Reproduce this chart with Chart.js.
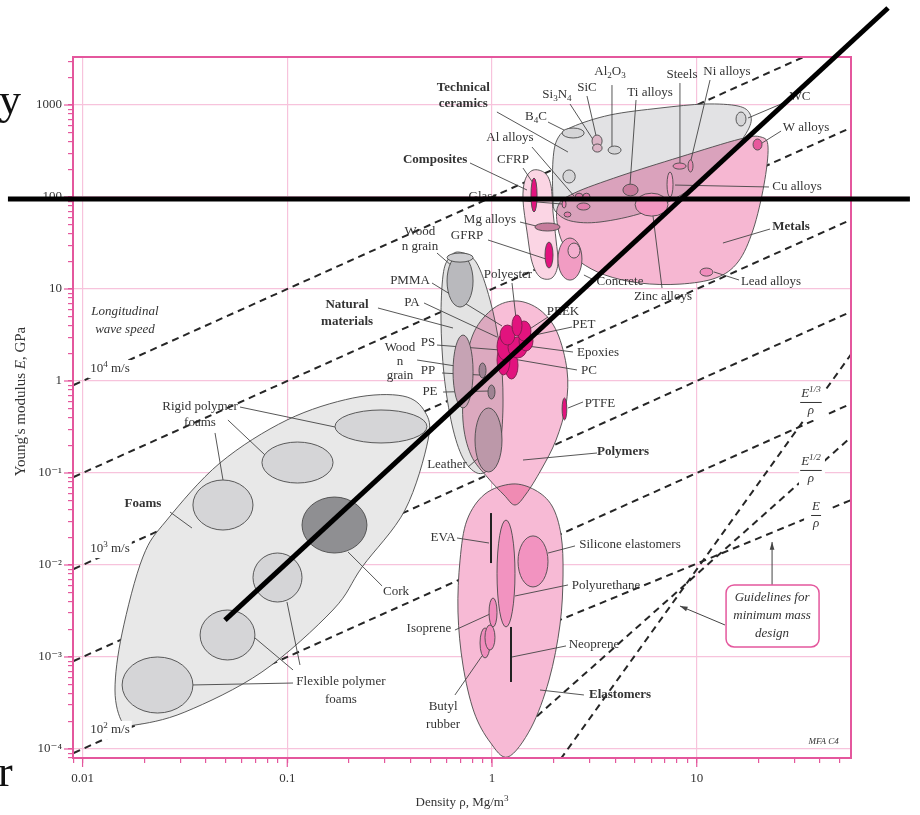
<!DOCTYPE html>
<html>
<head>
<meta charset="utf-8">
<title>Young's modulus against density</title>
<script src="https://cdn.jsdelivr.net/npm/chart.js@4.4.1/dist/chart.umd.min.js"></script>
<style>
  html, body { margin: 0; padding: 0; background: #fff; }
  #wrap { position: relative; width: 920px; height: 815px; overflow: hidden; }
  canvas { position: absolute; left: 0; top: 0; }
  .edge { position: absolute; font-family: "Liberation Serif", serif; color: #111; line-height: 1; }
</style>
</head>
<body>
<div id="wrap">
  <canvas id="chart" width="920" height="815"></canvas>
  <div class="edge" style="left:-1px; top:78px; font-size:44px;">y</div>
  <div class="edge" style="left:-2px; top:750px; font-size:44px;">r</div>
</div>
<script>
const SERIF = '"Liberation Serif", "DejaVu Serif", serif';
const INK = '#333';
const FRAME = '#e4579d';
const GRID = '#f7c3dc';
const OUTLINE = '#4a4a4a';

// axis decades
const densityTicks = [0.01, 0.1, 1, 10];
const densityTickLabels = ['0.01', '0.1', '1', '10'];
const modulusTicks = [1e-4, 1e-3, 1e-2, 1e-1, 1, 10, 100, 1000];
const modulusTickLabels = ['10⁻⁴', '10⁻³', '10⁻²', '10⁻¹', '1', '10', '100', '1000'];

// class envelopes, boundary points [density Mg/m3, modulus GPa]
const ceramicsField = [[1.986, 92.8], [1.986, 253], [2.10, 438], [2.459, 577], [3.77, 779], [6.62, 927], [10.98, 1025], [15.92, 975],
  [18.21, 798], [18.0, 562], [14.88, 301], [11.88, 187], [8.87, 113], [5.59, 68.7], [3.37, 53.5], [2.43, 54.8], [2.055, 68.7]];
const metalsField = [[2.10, 79.8], [2.515, 110], [4.22, 169], [8.28, 272], [16.28, 427], [20.6, 449], [22.3, 349], [21.3, 135],
  [18.84, 43.8], [15.92, 19.7], [12.42, 13.2], [8.28, 11.3], [5.28, 11.6], [3.56, 14.2], [2.69, 19.7], [2.273, 28.6], [2.10, 46.0]];
const compositesField = [[1.586, 196], [1.815, 182], [1.941, 132], [1.986, 68.7], [2.055, 34.1], [2.10, 18.7], [1.963, 13.2],
  [1.716, 13.5], [1.568, 19.7], [1.483, 41.7], [1.417, 92.8], [1.45, 153]];
const naturalField = [[0.690, 25.2], [0.835, 19.7], [0.978, 7.59], [1.094, 2.17], [1.132, 0.622], [1.094, 0.2015], [0.978, 0.1133],
  [0.845, 0.1], [0.721, 0.1456], [0.638, 0.3325], [0.583, 1.162], [0.5635, 4.60], [0.5767, 14.2], [0.6166, 21.7]];
const polymersField = [[1.325, 7.41], [1.716, 5.91], [2.077, 3.41], [2.325, 1.317], [2.299, 0.548], [2.055, 0.2284], [1.735, 0.1078],
  [1.466, 0.0591], [1.295, 0.0449], [1.145, 0.0577], [0.956, 0.0883], [0.789, 0.157], [0.721, 0.377], [0.738, 1.317], [0.817, 3.41], [1.023, 6.22]];
const elastomersField = [[1.252, 0.0759], [1.622, 0.0653], [1.964, 0.0438], [2.174, 0.0212], [2.223, 7.79e-3], [2.148, 2.23e-3],
  [1.899, 5.62e-4], [1.55, 1.69e-4], [1.197, 8.19e-5], [0.978, 1.19e-4], [0.817, 2.52e-4], [0.721, 8.19e-4], [0.682, 3.08e-3],
  [0.698, 0.0113], [0.755, 0.0308], [0.924, 0.0591]];
const foamsField = [[0.0156, 1.96e-4], [0.0144, 4.38e-4], [0.0156, 1.82e-3], [0.0197, 0.0122], [0.0258, 0.0308], [0.0469, 0.1285],
  [0.0997, 0.377], [0.209, 0.653], [0.367, 0.687], [0.471, 0.46], [0.487, 0.228], [0.376, 0.0396], [0.232, 0.0095], [0.167, 3.24e-3],
  [0.0752, 6.87e-4], [0.0316, 2.52e-4], [0.018, 1.82e-4]];

// individual materials: [name, density low, density high, modulus low, modulus high]
const materials = [
  ['WC', 15.56, 17.4, 591, 839],
  ['B4C', 2.2, 2.82, 438, 562],
  ['Si3N4', 3.08, 3.45, 349, 472],
  ['SiC', 3.1, 3.45, 308, 377],
  ['Al2O3', 3.69, 4.27, 293, 358],
  ['Ceramic', 2.22, 2.55, 142, 197],
  ['W alloys', 18.84, 20.84, 324, 427],
  ['Steels', 7.66, 8.87, 201, 234],
  ['Ni alloys', 9.07, 9.59, 187, 253],
  ['Cu alloys', 7.16, 7.66, 100, 187],
  ['Ti alloys', 4.36, 5.17, 103, 138],
  ['Zinc alloys', 5.0, 7.24, 62, 110],
  ['Lead alloys', 10.38, 12.0, 13.8, 16.9],
  ['Al alloys A', 2.55, 2.78, 92.8, 110],
  ['Al alloys B', 2.78, 3.01, 92.8, 110],
  ['Al alloys C', 2.6, 3.01, 72.2, 86.1],
  ['Glass', 2.2, 2.3, 75.9, 92.8],
  ['Glass B', 2.25, 2.43, 60.6, 68.7],
  ['Mg alloys', 1.62, 2.15, 42.7, 52.2],
  ['CFRP', 1.55, 1.66, 68.7, 161],
  ['GFRP', 1.815, 1.986, 16.9, 32.4],
  ['Concrete', 2.1, 2.75, 12.5, 35.8],
  ['Concrete B', 2.35, 2.69, 21.7, 31.6],
  ['Wood par', 0.603, 0.808, 6.37, 23.4],
  ['Wood cap', 0.603, 0.808, 19.6, 24.6],
  ['Wood perp', 0.645, 0.808, 0.509, 3.16],
  ['Leather', 0.826, 1.119, 0.1025, 0.509],
  ['PP', 0.864, 0.935, 1.078, 1.57],
  ['PE', 0.956, 1.034, 0.637, 0.905],
  ['PTFE', 2.2, 2.32, 0.377, 0.654],
  ['PC', 1.157, 1.34, 1.05, 2.07],
  ['PS', 1.058, 1.224, 1.162, 2.46],
  ['PA', 1.058, 1.252, 1.69, 3.32],
  ['Epoxies', 1.197, 1.483, 1.78, 3.01],
  ['PET', 1.355, 1.586, 2.12, 3.5],
  ['PMMA', 1.094, 1.295, 2.46, 4.06],
  ['PEEK', 1.325, 1.55, 2.72, 4.49],
  ['Polyester', 1.252, 1.401, 3.08, 5.22],
  ['Polyurethane', 1.058, 1.295, 2.12e-3, 0.0308],
  ['Silicone', 1.34, 1.877, 5.77e-3, 0.0207],
  ['Isoprene', 0.967, 1.058, 2.12e-3, 4.38e-3],
  ['Butyl A', 0.874, 0.978, 9.76e-4, 2.07e-3],
  ['Butyl B', 0.924, 1.034, 1.19e-3, 2.23e-3],
  ['Rigid foam A', 0.171, 0.481, 0.212, 0.484],
  ['Rigid foam B', 0.0752, 0.1673, 0.0778, 0.217],
  ['Rigid foam C', 0.0346, 0.068, 0.024, 0.0839],
  ['Cork', 0.118, 0.245, 0.0135, 0.0548],
  ['Flexible foam A', 0.068, 0.118, 3.96e-3, 0.0135],
  ['Flexible foam B', 0.0375, 0.0695, 9.28e-4, 3.24e-3],
  ['Flexible foam C', 0.0156, 0.0346, 2.46e-4, 1.0e-3],
];
// materials given as one density with a modulus spread
const materialBars = [['EVA', 0.989, 0.0105, 0.0367], ['Neoprene', 1.238, 5.35e-4, 2.12e-3]];

// longitudinal wave speed, E/rho constant (10^4 down to 10^2 m/s)
const waveLines = [
  [[0.008, 0.8], [60, 6000]],
  [[0.008, 0.08], [60, 600]],
  [[0.008, 0.008], [60, 60]],
  [[0.008, 8e-4], [60, 6]],
  [[0.008, 8e-5], [60, 0.6]],
];
// minimum mass guidelines: E/rho, E^1/2/rho, E^1/3/rho
const massLines = [
  [[1.8, 2.15e-3], [60, 0.0535]],
  [[1.5, 1.86e-4], [60, 0.274]],
  [[2.0, 6.1e-5], [60, 2.32]],
];
// heavy marker lines drawn over the chart
const markerLines = [
  [[0.00432, 95.1], [110, 95.1]],
  [[0.0496, 0.00252], [86, 11330]],
];

const fieldStyle = [
  [ceramicsField, '#e2e2e4'],
  [metalsField, '#f6b7d2'],
  [compositesField, '#fbd5e4'],
  [naturalField, '#e3e3e3'],
  [polymersField, '#f8bed7'],
  [elastomersField, '#f7bad5'],
  [foamsField, '#e8e8e8'],
];

const MAGENTA = '#e2137e';
const FOAM = '#d5d5d7';
const materialFill = {
  'WC': '#d5d5d7', 'B4C': '#d5d5d7', 'Si3N4': '#dcb5c6', 'SiC': '#dcb5c6', 'Al2O3': '#d5d5d7', 'Ceramic': '#d5d5d7',
  'W alloys': '#e8579c', 'Steels': '#e58bb3', 'Ni alloys': '#e58bb3', 'Cu alloys': '#f0a2c6', 'Ti alloys': '#c97c9d',
  'Zinc alloys': '#f297c1', 'Lead alloys': '#f08cbc', 'Al alloys A': '#e27fae', 'Al alloys B': '#e27fae', 'Al alloys C': '#e27fae',
  'Glass': '#f086b9', 'Glass B': '#e27fae', 'Mg alloys': '#c67d9c', 'CFRP': MAGENTA, 'GFRP': MAGENTA,
  'Concrete': '#f19cc3', 'Concrete B': '#f4afcf', 'Wood par': '#b9b9bd', 'Wood cap': '#cfcfd2', 'Wood perp': '#c6a3b4',
  'Leather': '#bc98a9', 'PP': '#9f8393', 'PE': '#9f8393', 'PTFE': MAGENTA,
  'PC': MAGENTA, 'PS': MAGENTA, 'PA': MAGENTA, 'Epoxies': MAGENTA, 'PET': MAGENTA, 'PMMA': MAGENTA, 'PEEK': MAGENTA, 'Polyester': MAGENTA,
  'Polyurethane': '#f293c0', 'Silicone': '#f293c0', 'Isoprene': '#f08cbc', 'Butyl A': '#f08cbc', 'Butyl B': '#f08cbc',
  'Rigid foam A': FOAM, 'Rigid foam B': FOAM, 'Rigid foam C': FOAM, 'Cork': '#8f8f92',
  'Flexible foam A': FOAM, 'Flexible foam B': FOAM, 'Flexible foam C': FOAM,
};
const clusterNames = ['PC', 'PS', 'PA', 'Epoxies', 'PET', 'PMMA', 'PEEK', 'Polyester'];

// callout placement, in decades (log10 rho, log10 E)
const callouts = [
  { text: ['Technical', 'ceramics'], at: [-0.14, 3.19], bold: true, lh: 16, lead: [[0.024, 2.924, 0.371, 2.489]] },
  { text: ['Composites'], at: [-0.278, 2.402], bold: true, lead: [[-0.1075, 2.37, 0.171, 2.076]] },
  { text: ['Natural', 'materials'], at: [-0.708, 0.826], bold: true, lh: 17, lead: [[-0.557, 0.7935, -0.1905, 0.576]] },
  { text: ['Foams'], at: [-1.705, -1.337], bold: true, lead: [[-1.573, -1.424, -1.4656, -1.598]] },
  { text: ['Polymers'], at: [0.64, -0.772], bold: true, lead: [[0.1514, -0.859, 0.513, -0.7826]] },
  { text: ['Elastomers'], at: [0.6253, -3.413], bold: true, lead: [[0.2345, -3.359, 0.449, -3.413]] },
  { text: ['Metals'], at: [1.4607, 1.674], bold: true, lead: [[1.358, 1.652, 1.128, 1.5]] },
  { text: ['Si_{3}N_{4}'], at: [0.3175, 3.109], lead: [[0.381, 3.011, 0.498, 2.609]] },
  { text: ['SiC'], at: [0.464, 3.185], lead: [[0.464, 3.098, 0.513, 2.62]] },
  { text: ['Al_{2}O_{3}'], at: [0.5765, 3.359], lead: [[0.586, 3.217, 0.586, 2.554]] },
  { text: ['Steels'], at: [0.928, 3.326], lead: [[0.918, 3.239, 0.918, 2.37]] },
  { text: ['Ni alloys'], at: [1.148, 3.359], lead: [[1.065, 3.272, 0.972, 2.402]] },
  { text: ['Ti alloys'], at: [0.772, 3.13], lead: [[0.7035, 3.054, 0.674, 2.13]] },
  { text: ['B_{4}C'], at: [0.215, 2.87], lead: [[0.2736, 2.815, 0.3615, 2.717]] },
  { text: ['Al alloys'], at: [0.0879, 2.641], lead: [[0.1954, 2.543, 0.4006, 2.011]] },
  { text: ['CFRP'], at: [0.1026, 2.402], lead: [[0.1514, 2.315, 0.2003, 2.152]] },
  { text: ['Glass'], at: [-0.044, 2.0], lead: [[0.039, 1.978, 0.342, 1.924]] },
  { text: ['Mg alloys'], at: [-0.0098, 1.75], lead: [[0.1368, 1.728, 0.215, 1.685]] },
  { text: ['GFRP'], at: [-0.122, 1.576], lead: [[-0.0195, 1.533, 0.2638, 1.326]] },
  { text: ['Wood', 'n grain'], at: [-0.352, 1.62], lh: 15, lead: [[-0.2687, 1.391, -0.1954, 1.25]] },
  { text: ['PMMA'], at: [-0.4006, 1.087], lead: [[-0.293, 1.065, 0.0489, 0.598]] },
  { text: ['PA'], at: [-0.391, 0.848], lead: [[-0.332, 0.848, 0.0244, 0.478]] },
  { text: ['Polyester'], at: [0.078, 1.152], lead: [[0.0977, 1.065, 0.117, 0.685]] },
  { text: ['PEEK'], at: [0.3468, 0.75], lead: [[0.2736, 0.6957, 0.1759, 0.554]] },
  { text: ['PET'], at: [0.449, 0.609], lead: [[0.391, 0.587, 0.1856, 0.489]] },
  { text: ['Epoxies'], at: [0.518, 0.304], lead: [[0.3957, 0.315, 0.1368, 0.391]] },
  { text: ['PC'], at: [0.474, 0.1087], lead: [[0.415, 0.12, 0.1026, 0.239]] },
  { text: ['PS'], at: [-0.3127, 0.413], lead: [[-0.2687, 0.391, 0.039, 0.337]] },
  { text: ['Wood', 'n', 'grain'], at: [-0.4494, 0.3587], lh: 14, lead: [[-0.366, 0.228, -0.1466, 0.152]] },
  { text: ['PP'], at: [-0.3127, 0.1087], lead: [[-0.244, 0.087, -0.0586, 0.065]] },
  { text: ['PE'], at: [-0.303, -0.12], lead: [[-0.239, -0.12, -0.0147, -0.109]] },
  { text: ['PTFE'], at: [0.5276, -0.25], lead: [[0.4445, -0.228, 0.3713, -0.2935]] },
  { text: ['Leather'], at: [-0.2198, -0.913], lead: [[-0.117, -0.935, -0.0489, -0.804]] },
  { text: ['Concrete'], at: [0.6253, 1.076], lead: [[0.449, 1.152, 0.508, 1.087]] },
  { text: ['Zinc alloys'], at: [0.835, 0.913], lead: [[0.8305, 1.011, 0.7816, 1.88]] },
  { text: ['Cu alloys'], at: [1.49, 2.109], lead: [[1.353, 2.109, 0.894, 2.13]] },
  { text: ['W alloys'], at: [1.534, 2.75], lead: [[1.412, 2.717, 1.319, 2.587]] },
  { text: ['WC'], at: [1.5047, 3.087], lead: [[1.446, 3.043, 1.2506, 2.859]] },
  { text: ['Lead alloys'], at: [1.363, 1.076], lead: [[1.2066, 1.098, 1.0845, 1.185]] },
  { text: ['Rigid polymer', 'foams'], at: [-1.4265, -0.283], lh: 16,
    lead: [[-1.231, -0.283, -0.767, -0.5], [-1.29, -0.424, -1.109, -0.804], [-1.353, -0.565, -1.314, -1.076]] },
  { text: ['Cork'], at: [-0.469, -2.293], lead: [[-0.703, -1.859, -0.537, -2.228]] },
  { text: ['Flexible polymer', 'foams'], at: [-0.738, -3.272], lh: 18,
    lead: [[-0.972, -3.283, -1.461, -3.304], [-0.972, -3.141, -1.158, -2.793], [-0.938, -3.087, -1.0015, -2.402]] },
  { text: ['EVA'], at: [-0.239, -1.7065], lead: [[-0.171, -1.7065, -0.0147, -1.761]] },
  { text: ['Silicone elastomers'], at: [0.674, -1.783], lead: [[0.4055, -1.793, 0.2736, -1.87]] },
  { text: ['Polyurethane'], at: [0.557, -2.228], lead: [[0.3713, -2.217, 0.1124, -2.337]] },
  { text: ['Isoprene'], at: [-0.3078, -2.696], lead: [[-0.181, -2.707, -0.0098, -2.533]] },
  { text: ['Neoprene'], at: [0.498, -2.87], lead: [[0.3615, -2.88, 0.0977, -3.0]] },
  { text: ['Butyl', 'rubber'], at: [-0.239, -3.543], lh: 18, lead: [[-0.181, -3.413, -0.0489, -2.989]] },
  { text: ['Longitudinal', 'wave speed'], at: [-1.793, 0.75], italic: true, lh: 18 },
  { text: ['10^{4} m/s'], at: [-1.866, 0.13], knock: true },
  { text: ['10^{3} m/s'], at: [-1.866, -1.826], knock: true },
  { text: ['10^{2} m/s'], at: [-1.866, -3.793], knock: true },
  { text: ['MFA C4'], at: [1.62, -3.924], italic: true, size: 9 },
];
// fraction labels on the guidelines: numerator, position of the bar
const fractionLabels = [
  { num: 'E^{1/3}', at: [1.558, -0.228] },
  { num: 'E^{1/2}', at: [1.558, -0.967] },
  { num: 'E', at: [1.583, -1.4565] },
];
const guideNote = { text: ['Guidelines for', 'minimum mass', 'design'], at: [1.368, -2.554],
  arrows: [[1.138, -2.652, 0.918, -2.446], [1.368, -2.217, 1.368, -1.75]] };

const isDecade = v => Math.abs(Math.log10(v) - Math.round(Math.log10(v))) < 1e-9;
function tickLabel(v, ticks, labels) {
  const i = ticks.findIndex(t => Math.abs(t - v) / t < 1e-9);
  return i < 0 ? '' : labels[i];
}
function logTicks(min, max) {
  const out = [];
  for (let p = Math.floor(Math.log10(min)); p <= Math.ceil(Math.log10(max)); p++) {
    for (let k = 1; k < 10; k++) {
      const v = k * Math.pow(10, p);
      if (v >= min && v <= max) out.push({ value: v });
    }
  }
  return out;
}

// text with _{sub} and ^{sup} runs, centred on (x, y) unless align says otherwise
function richText(ctx, str, x, y, o = {}) {
  const size = o.size || 13;
  const segs = [];
  const re = /([_^])\{([^}]*)\}/g;
  let last = 0, m;
  while ((m = re.exec(str))) {
    if (m.index > last) segs.push({ t: str.slice(last, m.index), k: 0 });
    segs.push({ t: m[2], k: m[1] === '_' ? 1 : -1 });
    last = re.lastIndex;
  }
  if (last < str.length) segs.push({ t: str.slice(last), k: 0 });
  const fontFor = s => `${o.italic ? 'italic ' : ''}${o.bold ? 'bold ' : ''}${s.k ? size * 0.7 : size}px ${SERIF}`;
  let w = 0;
  segs.forEach(s => { ctx.font = fontFor(s); s.w = ctx.measureText(s.t).width; w += s.w; });
  let cx = o.align === 'left' ? x : o.align === 'right' ? x - w : x - w / 2;
  const left = cx;
  if (o.knock) {
    ctx.fillStyle = '#fff';
    ctx.fillRect(left - 2, y - size * 0.7, w + 4, size * 1.4);
  }
  ctx.fillStyle = o.color || INK;
  ctx.textBaseline = 'middle';
  ctx.textAlign = 'left';
  segs.forEach(s => {
    ctx.font = fontFor(s);
    ctx.fillText(s.t, cx, y + (s.k > 0 ? size * 0.3 : s.k < 0 ? -size * 0.35 : 0));
    cx += s.w;
  });
  return w;
}

function smoothPath(ctx, pts) {
  const n = pts.length;
  ctx.beginPath();
  ctx.moveTo(pts[0].x, pts[0].y);
  for (let i = 0; i < n; i++) {
    const p0 = pts[(i - 1 + n) % n], p1 = pts[i], p2 = pts[(i + 1) % n], p3 = pts[(i + 2) % n];
    ctx.bezierCurveTo(p1.x + (p2.x - p0.x) / 6, p1.y + (p2.y - p0.y) / 6,
      p2.x - (p3.x - p1.x) / 6, p2.y - (p3.y - p1.y) / 6, p2.x, p2.y);
  }
  ctx.closePath();
}

const materialsPlugin = {
  id: 'materials',
  afterDatasetsDraw(chart) {
    const { ctx, chartArea: a, scales: { x, y } } = chart;
    const P = (r, e) => ({ x: x.getPixelForValue(r), y: y.getPixelForValue(e) });
    const D = (lr, le) => P(10 ** lr, 10 ** le);

    ctx.save();
    ctx.beginPath();
    ctx.rect(a.left, a.top, a.right - a.left, a.bottom - a.top);
    ctx.clip();

    // class fields: blank out what lies beneath, then tint so overlaps darken
    const paths = fieldStyle.map(([pts, fill]) => [pts.map(([r, e]) => P(r, e)), fill]);
    paths.forEach(([pts]) => { smoothPath(ctx, pts); ctx.fillStyle = '#fff'; ctx.fill(); });
    ctx.globalCompositeOperation = 'multiply';
    paths.forEach(([pts, fill]) => { smoothPath(ctx, pts); ctx.fillStyle = fill; ctx.fill(); });
    ctx.globalCompositeOperation = 'source-over';
    ctx.strokeStyle = OUTLINE;
    ctx.lineWidth = 0.9;
    paths.forEach(([pts]) => { smoothPath(ctx, pts); ctx.stroke(); });

    // leader lines
    ctx.strokeStyle = '#444';
    ctx.lineWidth = 0.9;
    callouts.forEach(c => (c.lead || []).forEach(([a1, b1, a2, b2]) => {
      const p = D(a1, b1), q = D(a2, b2);
      ctx.beginPath(); ctx.moveTo(p.x, p.y); ctx.lineTo(q.x, q.y); ctx.stroke();
    }));

    // material bubbles
    materials.forEach(([name, r0, r1, e0, e1]) => {
      const p = P(r0, e0), q = P(r1, e1);
      ctx.beginPath();
      ctx.ellipse((p.x + q.x) / 2, (p.y + q.y) / 2, Math.abs(q.x - p.x) / 2, Math.abs(q.y - p.y) / 2, 0, 0, Math.PI * 2);
      ctx.fillStyle = materialFill[name] || FOAM;
      ctx.fill();
      ctx.strokeStyle = clusterNames.includes(name) ? '#7b1d4c' : OUTLINE;
      ctx.lineWidth = 0.9;
      ctx.stroke();
    });
    ctx.strokeStyle = '#222';
    ctx.lineWidth = 2;
    materialBars.forEach(([, r, e0, e1]) => {
      const p = P(r, e0), q = P(r, e1);
      ctx.beginPath(); ctx.moveTo(p.x, p.y); ctx.lineTo(q.x, q.y); ctx.stroke();
    });
    ctx.restore();

    // labels
    ctx.save();
    callouts.forEach(c => {
      const p = D(c.at[0], c.at[1]);
      c.text.forEach((line, i) => richText(ctx, line, p.x, p.y + i * (c.lh || 17), c));
    });

    // guideline fractions
    fractionLabels.forEach(f => {
      const p = D(f.at[0], f.at[1]);
      ctx.fillStyle = '#fff';
      ctx.fillRect(p.x - 12, p.y - 18, 26, 36);
      const w = richText(ctx, f.num, p.x, p.y - 8, { italic: true });
      ctx.strokeStyle = INK;
      ctx.lineWidth = 1;
      ctx.beginPath(); ctx.moveTo(p.x - w / 2 - 1, p.y + 0.5); ctx.lineTo(p.x + w / 2 + 1, p.y + 0.5); ctx.stroke();
      richText(ctx, 'ρ', p.x, p.y + 9, { italic: true });
    });

    // guideline note with arrows
    ctx.strokeStyle = '#444';
    ctx.fillStyle = '#444';
    ctx.lineWidth = 1;
    guideNote.arrows.forEach(([a1, b1, a2, b2]) => {
      const p = D(a1, b1), q = D(a2, b2);
      const ang = Math.atan2(q.y - p.y, q.x - p.x);
      ctx.beginPath(); ctx.moveTo(p.x, p.y); ctx.lineTo(q.x, q.y); ctx.stroke();
      ctx.beginPath();
      ctx.moveTo(q.x, q.y);
      ctx.lineTo(q.x - 8 * Math.cos(ang - 0.3), q.y - 8 * Math.sin(ang - 0.3));
      ctx.lineTo(q.x - 8 * Math.cos(ang + 0.3), q.y - 8 * Math.sin(ang + 0.3));
      ctx.closePath(); ctx.fill();
    });
    const g = D(guideNote.at[0], guideNote.at[1]);
    ctx.beginPath();
    ctx.roundRect(g.x - 46, g.y - 31, 93, 62, 8);
    ctx.fillStyle = '#fff'; ctx.fill();
    ctx.strokeStyle = FRAME; ctx.lineWidth = 1.5; ctx.stroke();
    guideNote.text.forEach((line, i) => richText(ctx, line, g.x, g.y - 18 + i * 18, { italic: true }));
    ctx.restore();
  },
  afterDraw(chart) {
    const { ctx, chartArea: a, scales: { x, y } } = chart;
    ctx.save();
    // frame and the longer decade ticks
    ctx.strokeStyle = FRAME;
    ctx.lineWidth = 2;
    ctx.strokeRect(a.left, a.top, a.right - a.left, a.bottom - a.top);
    ctx.lineWidth = 1.2;
    densityTicks.forEach(v => {
      const px = x.getPixelForValue(v);
      ctx.beginPath(); ctx.moveTo(px, a.bottom); ctx.lineTo(px, a.bottom + 9); ctx.stroke();
    });
    modulusTicks.forEach(v => {
      const py = y.getPixelForValue(v);
      ctx.beginPath(); ctx.moveTo(a.left, py); ctx.lineTo(a.left - 9, py); ctx.stroke();
    });

    // axis titles
    richText(ctx, 'Density ρ, Mg/m^{3}', (a.left + a.right) / 2, a.bottom + 45);
    ctx.translate(a.left - 52, (a.top + a.bottom) / 2 - 6);
    ctx.rotate(-Math.PI / 2);
    const parts = [["Young's modulus ", false], ['E', true], [', GPa', false]];
    let total = 0;
    parts.forEach(p => { ctx.font = `${p[1] ? 'italic ' : ''}15px ${SERIF}`; p.push(ctx.measureText(p[0]).width); total += p[2]; });
    let cx = -total / 2;
    ctx.fillStyle = INK;
    ctx.textBaseline = 'middle';
    parts.forEach(p => { ctx.font = `${p[1] ? 'italic ' : ''}15px ${SERIF}`; ctx.fillText(p[0], cx, 0); cx += p[2]; });
    ctx.setTransform(1, 0, 0, 1, 0, 0);

    // heavy marker lines
    ctx.strokeStyle = '#000';
    ctx.lineWidth = 5;
    markerLines.forEach(([[r0, e0], [r1, e1]]) => {
      ctx.beginPath();
      ctx.moveTo(x.getPixelForValue(r0), y.getPixelForValue(e0));
      ctx.lineTo(x.getPixelForValue(r1), y.getPixelForValue(e1));
      ctx.stroke();
    });
    ctx.restore();
  }
};

const dashed = pts => ({
  data: pts.map(([r, e]) => ({ x: r, y: e })),
  showLine: true,
  borderColor: '#262626',
  borderWidth: 2,
  borderDash: [7, 5],
  pointRadius: 0,
  fill: false,
});

const axisFont = { family: SERIF, size: 13 };
new Chart(document.getElementById('chart'), {
  type: 'scatter',
  data: { datasets: [...waveLines, ...massLines].map(dashed) },
  options: {
    responsive: false,
    animation: false,
    events: [],
    layout: { padding: { left: 0, right: 69, top: 57, bottom: 0 } },
    plugins: { legend: { display: false }, tooltip: { enabled: false } },
    scales: {
      x: {
        type: 'logarithmic',
        min: 0.00898,
        max: 56.7,
        afterBuildTicks: s => { s.ticks = logTicks(s.min, s.max); },
        afterFit: s => { s.height = 57; },
        grid: { color: c => (c.tick && isDecade(c.tick.value) ? GRID : 'rgba(0,0,0,0)'), lineWidth: 1.2,
          tickColor: FRAME, tickWidth: 1.2, tickLength: 5 },
        border: { color: FRAME, width: 2 },
        ticks: { autoSkip: false, maxRotation: 0, padding: 8, color: INK, font: axisFont,
          callback: v => tickLabel(v, densityTicks, densityTickLabels) },
      },
      y: {
        type: 'logarithmic',
        min: 7.98e-5,
        max: 3326,
        afterBuildTicks: s => { s.ticks = logTicks(s.min, s.max); },
        afterFit: s => { s.width = 73; },
        grid: { color: c => (c.tick && isDecade(c.tick.value) ? GRID : 'rgba(0,0,0,0)'), lineWidth: 1.2,
          tickColor: FRAME, tickWidth: 1.2, tickLength: 5 },
        border: { color: FRAME, width: 2 },
        ticks: { autoSkip: false, padding: 6, color: INK, font: axisFont,
          callback: v => tickLabel(v, modulusTicks, modulusTickLabels) },
      },
    },
  },
  plugins: [materialsPlugin],
});
</script>
</body>
</html>
